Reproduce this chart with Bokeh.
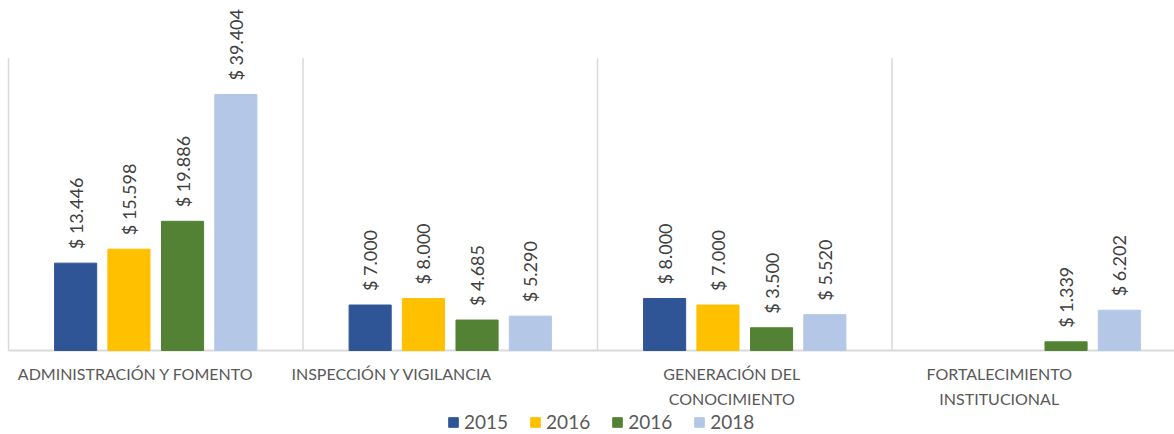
from bokeh.plotting import figure
from bokeh.models import Range1d, Legend, LegendItem, ColumnDataSource
from bokeh.core.properties import value
from bokeh.embed import file_html
from bokeh.resources import INLINE
import math

categories = ["ADMINISTRACIÓN Y FOMENTO", "INSPECCIÓN Y VIGILANCIA",
              "GENERACIÓN DEL\nCONOCIMIENTO", "FORTALECIMIENTO\nINSTITUCIONAL"]
series_names = ["2015", "2016", "2016", "2018"]
values_2015 = [13446, 7000, 8000, None]
values_2016a = [15598, 8000, 7000, None]
values_2016b = [19886, 4685, 3500, 1339]
values_2018 = [39404, 5290, 5520, 6202]

series_values = [values_2015, values_2016a, values_2016b, values_2018]
colors = ["#2F5597", "#FFC000", "#548235", "#B4C7E7"]
label_x_offsets = [-20, -58, -13, -40]  # style: label placement tweaks (px)

FONT = "Lato"
W, H = 1174, 434
cat_px = 294.5
left_px = 8
base_px = 350
px_per_unit = 256 / 39404.0

x0 = -left_px / cat_px
x1 = (W - left_px) / cat_px
ytop = base_px / px_per_unit
ybot = -(H - base_px) / px_per_unit

p = figure(width=W, height=H, output_backend="svg", toolbar_location=None,
           x_range=Range1d(x0, x1), y_range=Range1d(ybot, ytop),
           min_border=0, min_border_left=0, min_border_right=0,
           min_border_top=0, min_border_bottom=0)
p.axis.visible = False
p.grid.visible = False
p.outline_line_color = None
p.background_fill_color = "white"

# separators and baseline
n = len(categories)
p.segment(x0=list(range(n)), y0=[0] * n, x1=list(range(n)), y1=[45000] * n,
          line_color="#D9D9D9", line_width=1.5)
p.segment(x0=[0], y0=[0], x1=[x1], y1=[0], line_color="#D9D9D9", line_width=2)

offsets = [-0.272, -0.091, 0.091, 0.272]
bar_w = 0.143
renderers = []
for vals, off, col in zip(series_values, offsets, colors):
    xs, tops, labels = [], [], []
    for i, v in enumerate(vals):
        if v is None:
            continue
        xs.append(i + 0.5 + off)
        tops.append(v)
        labels.append("$ " + f"{v:,}".replace(",", "."))
    src = ColumnDataSource(dict(x=xs, top=tops, label=labels))
    r = p.vbar(x="x", top="top", width=bar_w, bottom=0, source=src,
               fill_color=col, line_color=col)
    renderers.append(r)
    p.text(x="x", y="top", text="label", source=src, angle=math.pi / 2,
           text_align="left", text_baseline="middle", y_offset=-14,
           text_font=value(FONT), text_font_size="18px", text_color="#404040")

# category labels
lx, ly_off, ltxt, lxo = [], [], [], []
for i, c in enumerate(categories):
    for j, line in enumerate(c.split("\n")):
        lx.append(i + 0.5)
        ly_off.append(13 + j * 25)
        ltxt.append(line)
        lxo.append(label_x_offsets[i])
p.text(x=lx, y=[0] * len(lx), text=ltxt, x_offset=lxo, y_offset=ly_off,
       text_align="center", text_baseline="top",
       text_font=value(FONT), text_font_size="16px", text_color="#595959")

legend = Legend(items=[LegendItem(label=value(nm), renderers=[r])
                       for nm, r in zip(series_names, renderers)],
                orientation="horizontal", location=(447, 1),
                glyph_width=12, glyph_height=12, label_standoff=5, spacing=21,
                padding=0, margin=0, border_line_color=None,
                background_fill_alpha=0, label_height=16,
                label_text_font=FONT, label_text_font_size="19px",
                label_text_color="#595959")
p.add_layout(legend, "center")

open("out.html", "w").write(file_html(p, INLINE))
